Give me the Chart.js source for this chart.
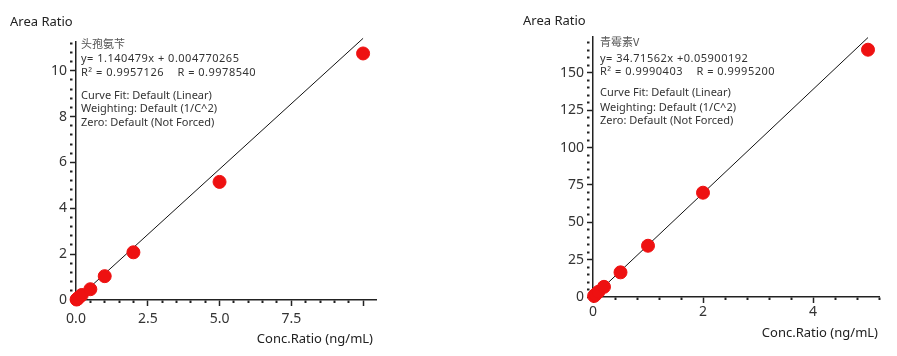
<!DOCTYPE html>
<html>
<head>
<meta charset="utf-8">
<script src="https://cdn.jsdelivr.net/npm/chart.js@4"></script>
<style>
  html, body { margin: 0; padding: 0; background: #fff; }
  body { width: 897px; height: 356px; position: relative; overflow: hidden; }
  .box { position: absolute; top: 0; height: 356px; }
</style>
</head>
<body>
<div class="box" style="left:0;width:448px"><canvas id="c1" width="448" height="356"></canvas></div>
<div class="box" style="left:448px;width:449px"><canvas id="c2" width="449" height="356"></canvas></div>
<script>
// ---- Left chart: 头孢氨苄 ----
const leftConc = [0.02, 0.05, 0.1, 0.2, 0.5, 1, 2, 5, 10];
const leftArea = [0.02, 0.05, 0.11, 0.22, 0.47, 1.04, 2.08, 5.15, 10.75];
const leftFitX = [0, 10];
const leftFitY = [0.0048, 11.41];
const leftInfo = ['头孢氨苄', 'y= 1.140479x + 0.004770265', 'R² = 0.9957126    R = 0.9978540',
  'Curve Fit: Default (Linear)', 'Weighting: Default (1/C^2)', 'Zero: Default (Not Forced)'];
const leftXMajor = [0, 2.5, 5, 7.5, 10];
const leftXLabels = ['0.0', '2.5', '5.0', '7.5', ''];
const leftYMajor = [0, 2, 4, 6, 8, 10];
const leftYLabels = ['0', '2', '4', '6', '8', '10'];

// ---- Right chart: 青霉素V ----
const rightConc = [0.02, 0.05, 0.1, 0.2, 0.5, 1, 2, 5];
const rightArea = [0.7, 1.8, 3.5, 6.8, 16.5, 34.3, 69.8, 165.5];
const rightFitX = [0, 5];
const rightFitY = [0.059, 173.64];
const rightInfo = ['青霉素V', 'y= 34.71562x +0.05900192', 'R² = 0.9990403    R = 0.9995200',
  'Curve Fit: Default (Linear)', 'Weighting: Default (1/C^2)', 'Zero: Default (Not Forced)'];
const rightXMajor = [0, 2, 4];
const rightXLabels = ['0', '2', '4'];
const rightYMajor = [0, 25, 50, 75, 100, 125, 150];
const rightYLabels = ['0', '25', '50', '75', '100', '125', '150'];

const yTitle = 'Area Ratio';
const xTitle = 'Conc.Ratio (ng/mL)';

function findMajor(v, majors) {
  for (let i = 0; i < majors.length; i++) if (Math.abs(v - majors[i]) < 1e-6) return i;
  return -1;
}

const textPlugin = {
  id: 'textPlugin',
  afterDraw(chart, args, opts) {
    const ctx = chart.ctx, ca = chart.chartArea;
    ctx.save();
    ctx.textBaseline = 'middle';
    ctx.fillStyle = '#222';
    ctx.font = '13px "Noto Sans", "Open Sans", sans-serif';
    ctx.textAlign = 'left';
    ctx.fillText(yTitle, ca.left + opts.yTitleDx, opts.yTitleY);
    ctx.textAlign = 'right';
    ctx.fillText(xTitle, ca.right + opts.xTitleDx, opts.xTitleY);
    ctx.textAlign = 'left';
    const lines = opts.info;
    const ys = opts.lineYs;
    for (let i = 0; i < lines.length; i++) {
      ctx.font = i === 0 ? '11px "Noto Sans CJK SC", sans-serif' : '11px "Noto Sans", "Open Sans", sans-serif';
      ctx.fillStyle = i === 0 ? '#555' : '#333';
      if (i === 1 || i === 2) {
        ctx.letterSpacing = '0.5px';
      } else {
        ctx.letterSpacing = '0px';
      }
      ctx.fillText(lines[i], ca.left + opts.infoDx, ys[i]);
    }
    ctx.letterSpacing = '0px';
    ctx.restore();
  }
};

function makeChart(id, cfg) {
  const pts = cfg.conc.map((x, i) => ({x: x, y: cfg.area[i]}));
  const fit = cfg.fitX.map((x, i) => ({x: x, y: cfg.fitY[i]}));
  const tickFont = {family: '"Noto Sans", "Open Sans", sans-serif', size: 14};
  const gridCommon = (majors) => ({
    display: true,
    drawOnChartArea: false,
    drawTicks: true,
    tickLength: 6,
    tickColor: '#222',
    tickWidth: (c) => findMajor(c.tick.value, majors) >= 0 ? 1.5 : 2,
    tickBorderDash: (c) => findMajor(c.tick.value, majors) >= 0 ? [] : [2.5, 20]
  });
  return new Chart(document.getElementById(id), {
    data: {
      datasets: [
        {type: 'line', data: fit, borderColor: '#111', borderWidth: 1, pointRadius: 0, fill: false, clip: false, order: 2},
        {type: 'scatter', data: pts, backgroundColor: '#ee1111', borderColor: '#ee1111', pointRadius: 6.5, pointHoverRadius: 6.5, clip: false, order: 1}
      ]
    },
    options: {
      responsive: false,
      devicePixelRatio: 1,
      animation: false,
      events: [],
      layout: {padding: cfg.padding},
      plugins: {
        legend: {display: false},
        tooltip: {enabled: false},
        textPlugin: cfg.text
      },
      scales: {
        x: {
          type: 'linear', position: 'bottom',
          min: 0, max: cfg.xMax,
          afterFit: (s) => { s.height = cfg.xHeight; },
          border: {display: true, color: '#222', width: 1.5},
          grid: gridCommon(cfg.xMajor),
          ticks: {
            stepSize: cfg.xStep, autoSkip: false, includeBounds: false, maxRotation: 0,
            color: '#333', font: tickFont, padding: cfg.xPad,
            callback: (v) => { const i = findMajor(v, cfg.xMajor); return i >= 0 ? cfg.xLabels[i] : ''; }
          }
        },
        y: {
          type: 'linear', position: 'left',
          min: 0, max: cfg.yMax,
          afterFit: (s) => { s.width = cfg.yWidth; },
          border: {display: true, color: '#222', width: 1.5},
          grid: gridCommon(cfg.yMajor),
          ticks: {
            stepSize: cfg.yStep, autoSkip: false, includeBounds: false,
            color: '#333', font: tickFont, padding: 3,
            callback: (v) => { const i = findMajor(v, cfg.yMajor); return i >= 0 ? cfg.yLabels[i] : ''; }
          }
        }
      }
    },
    plugins: [textPlugin]
  });
}

makeChart('c1', {
  conc: leftConc, area: leftArea, fitX: leftFitX, fitY: leftFitY,
  xMax: 10.45, xStep: 0.5, xMajor: leftXMajor, xLabels: leftXLabels, xPad: 5,
  yMax: 11.25, yStep: 0.4, yMajor: leftYMajor, yLabels: leftYLabels,
  padding: {left: 0, top: 42, right: 72, bottom: 0},
  yWidth: 76, xHeight: 56,
  text: {info: leftInfo, infoDx: 5, lineYs: [44, 59, 73, 96, 109, 123],
         yTitleDx: -66, yTitleY: 22, xTitleDx: -3, xTitleY: 339}
});

makeChart('c2', {
  conc: rightConc, area: rightArea, fitX: rightFitX, fitY: rightFitY,
  xMax: 5.2, xStep: 0.4, xMajor: rightXMajor, xLabels: rightXLabels, xPad: 1,
  yMax: 174, yStep: 5, yMajor: rightYMajor, yLabels: rightYLabels,
  padding: {left: 0, top: 37, right: 18, bottom: 0},
  yWidth: 145, xHeight: 59,
  text: {info: rightInfo, infoDx: 7, lineYs: [42, 59, 72, 93, 108, 121],
         yTitleDx: -70, yTitleY: 21, xTitleDx: -1, xTitleY: 333}
});
</script>
</body>
</html>
